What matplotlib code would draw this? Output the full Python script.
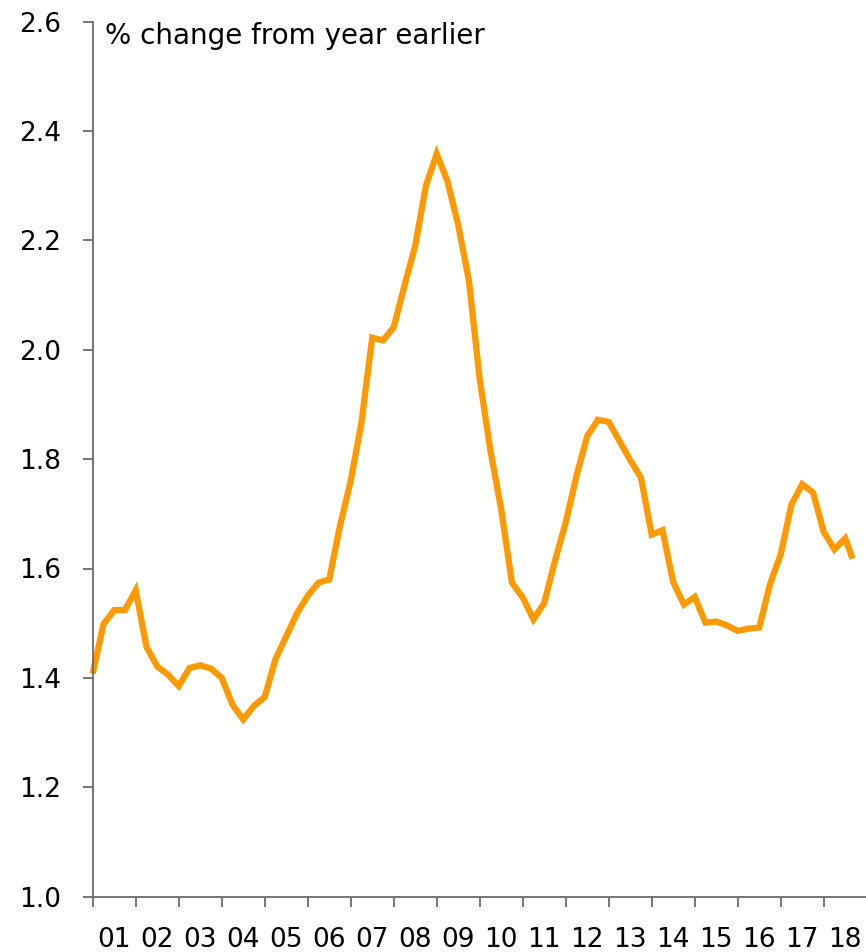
import numpy as np
import matplotlib
matplotlib.use("Agg")
import matplotlib.pyplot as plt
from matplotlib.ticker import FixedLocator, NullFormatter, FixedFormatter

# quarterly % change from year earlier, 2001Q1 onwards
values = [1.408, 1.498, 1.524, 1.524, 1.560, 1.457, 1.421, 1.406,
          1.385, 1.418, 1.423, 1.417, 1.400, 1.351, 1.324, 1.349,
          1.365, 1.434, 1.476, 1.518, 1.550, 1.574, 1.580, 1.678,
          1.760, 1.867, 2.022, 2.017, 2.041, 2.117, 2.190, 2.300,
          2.358, 2.308, 2.228, 2.126, 1.946, 1.815, 1.708, 1.574,
          1.547, 1.507, 1.537, 1.614, 1.684, 1.769, 1.842, 1.872,
          1.868, 1.833, 1.798, 1.766, 1.662, 1.670, 1.575, 1.534,
          1.548, 1.501, 1.503, 1.496, 1.486, 1.490, 1.492, 1.571,
          1.626, 1.717, 1.754, 1.739, 1.667, 1.635, 1.655, 1.618]
# time position of each point (years); last observation is part-way through a quarter
dates = [2001 + q / 4 for q in range(71)] + [2018.67]

years = list(range(2001, 2020))
year_labels = ["01", "02", "03", "04", "05", "06", "07", "08", "09",
               "10", "11", "12", "13", "14", "15", "16", "17", "18"]
y_ticks = [1.0, 1.2, 1.4, 1.6, 1.8, 2.0, 2.2, 2.4, 2.6]
y_labels = ["1.0", "1.2", "1.4", "1.6", "1.8", "2.0", "2.2", "2.4", "2.6"]

plt.rcParams['font.family'] = ['DejaVu Sans']
axis_col = '#6b6b6b'

fig = plt.figure(figsize=(8.66, 9.52), dpi=100)
W, H = 866, 952
left, right = 92.7, 866.7
bottom, top = 896.7, 21.5
ax = fig.add_axes([left / W, 1 - bottom / H, (right - left) / W, (bottom - top) / H])

ax.plot(dates, values, color='#FF9900', linewidth=4.5, solid_capstyle='butt',
        solid_joinstyle='miter', clip_on=False)

ax.set_xlim(2001, 2019)
ax.set_ylim(1.0, 2.6)

for s in ['top', 'right']:
    ax.spines[s].set_visible(False)
for s in ['left', 'bottom']:
    ax.spines[s].set_color(axis_col)
    ax.spines[s].set_linewidth(1.3)

# year boundaries get tick marks, labels sit mid-year
ax.xaxis.set_major_locator(FixedLocator(years))
ax.xaxis.set_major_formatter(NullFormatter())
ax.xaxis.set_minor_locator(FixedLocator([y + 0.5 for y in years[:-1]]))
ax.xaxis.set_minor_formatter(FixedFormatter(year_labels))
ax.tick_params(axis='x', which='major', direction='out', length=7.5, width=1.3,
               color=axis_col)
ax.tick_params(axis='x', which='minor', length=0, pad=22, labelsize=19)

ax.set_yticks(y_ticks)
ax.set_yticklabels(y_labels)
ax.tick_params(axis='y', direction='out', length=7.5, width=1.3, color=axis_col,
               pad=15, labelsize=19)

fig.text(105 / W, 1 - 44 / H, "% change from year earlier", fontsize=20,
         ha='left', va='baseline')

fig.savefig("out.png", dpi=100)
